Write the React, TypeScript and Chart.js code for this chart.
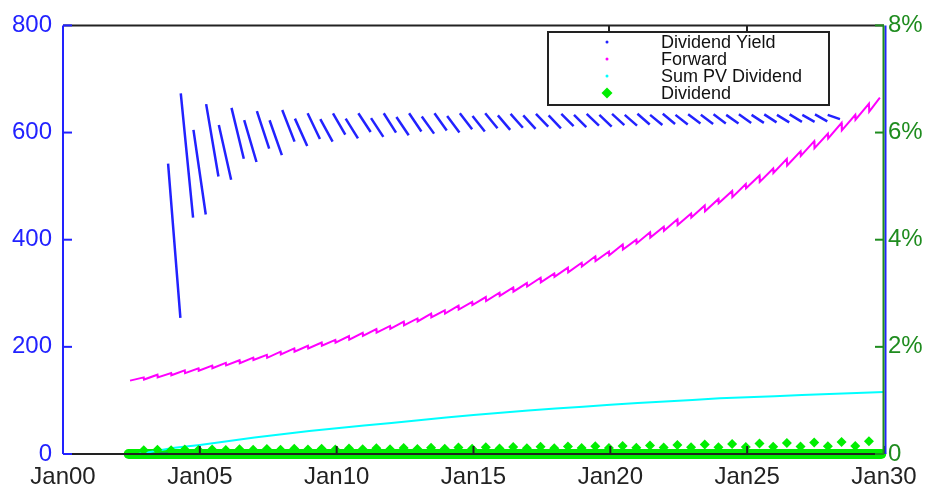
import { useEffect, useRef } from 'react';
import { Chart, registerables } from 'chart.js';

Chart.register(...registerables);

// ---------- data ----------
const seriesNames = ['Dividend Yield', 'Forward', 'Sum PV Dividend', 'Dividend'];
const xTickYears = [0, 5, 10, 15, 20, 25, 30];
const leftTicks = [0, 200, 400, 600, 800];
const rightTicks = [0, 2, 4, 6, 8];

// Dividend yield (%), one descending segment per period
const yieldStart = 3.84;
const yieldPeriod = 0.4635;
const yieldTops = [
  5.42, 6.73, 6.05, 6.53, 6.14, 6.46, 6.23, 6.4, 6.23, 6.42, 6.26, 6.36, 6.25, 6.36, 6.26, 6.36,
  6.27, 6.36, 6.29, 6.36, 6.3, 6.36, 6.31, 6.36, 6.31, 6.36, 6.32, 6.35, 6.32, 6.35, 6.32, 6.35,
  6.33, 6.35, 6.33, 6.35, 6.33, 6.35, 6.33, 6.35, 6.33, 6.34, 6.33, 6.34, 6.33, 6.34, 6.33, 6.34,
  6.33, 6.34, 6.33, 6.34, 6.33,
];
const yieldBottoms = [
  2.54, 4.41, 4.47, 5.18, 5.12, 5.51, 5.45, 5.7, 5.58, 5.83, 5.75, 5.88, 5.83, 5.96, 5.89, 6.01,
  5.92, 6.0, 5.95, 6.02, 5.98, 6.04, 6.0, 6.06, 6.02, 6.08, 6.05, 6.09, 6.07, 6.11, 6.08, 6.12,
  6.1, 6.13, 6.11, 6.14, 6.13, 6.15, 6.14, 6.16, 6.15, 6.17, 6.16, 6.17, 6.17, 6.18, 6.18, 6.19,
  6.19, 6.2, 6.2, 6.21, 6.25,
];
const yieldZeroSpan = [3.43, 3.84];

// Dividends (semi-annual), alternating small / big payments
const divStart = 2.95;
const divPeriod = 0.5;
const dividendSmall = [
  7, 7.2, 7.4, 7.6, 7.8, 8, 8.2, 8.5, 8.8, 9, 9.3, 9.6, 9.9, 10.2, 10.5, 10.8, 11, 11.3, 11.6, 12,
  12.4, 12.8, 13.2, 13.6, 14, 14.5, 15,
];
const dividendBig = [
  8, 8.3, 8.6, 9, 9.3, 9.6, 10, 10.4, 10.8, 11.2, 11.6, 12, 12.5, 13, 13.5, 14, 14.5, 15, 16, 17,
  17.5, 18.5, 19.5, 20.5, 21.5, 22.5, 24,
];

// Forward: value just before each dividend date, and the drop on that date
const forwardStart = [2.45, 137];
const forwardEnd = [29.85, 665];
const forwardPre = [
  143, 148, 151, 156, 160, 165, 170, 175, 180, 185, 191, 197, 202, 208, 213, 220, 226, 233, 239,
  247, 253, 262, 268, 277, 284, 293, 301, 311, 319, 329, 337, 348, 357, 369, 378, 391, 400, 414,
  424, 438, 449, 464, 476, 491, 504, 520, 533, 551, 565, 584, 598, 618, 633, 654,
];
const forwardDrop = [
  4, 5, 4, 5, 4.5, 5, 4.5, 5.5, 4.5, 5.5, 5, 6, 5, 6, 5, 6.5, 5.5, 6.5, 5.5, 7, 5.5, 7, 6, 7.5, 6,
  7.5, 6, 8, 6.5, 8.5, 6.5, 9, 7, 9, 7, 9.5, 7, 10, 7.5, 10.5, 7.5, 11, 8, 11.5, 8, 12, 8.5, 12.5,
  8.5, 13, 9, 14, 9, 15,
];

// Sum of PV of dividends
const sumPVDates = [
  2.75, 3.45, 4, 5, 6, 7, 8, 9, 10, 11, 12, 13, 14, 15, 16, 17, 18, 19, 20, 21, 22, 23, 24, 25, 26,
  27, 28, 29, 30,
];
const sumPVValues = [
  0, 6, 11, 17, 24, 31, 37, 43, 48, 53, 58, 63, 68, 73, 77, 81, 85, 88, 92, 95, 98, 101, 104, 106,
  108, 110, 112, 114, 115.5,
];

const zeroBandSpan = [2.4, 29.9];

// ---------- styles ----------
const FONT = 'Liberation Sans, Arial, sans-serif';
const BLUE = '#2222ff';
const AXIS_GREEN = '#1f8c1f';
const GREEN = '#00ee00';
const MAGENTA = '#ff00ff';
const CYAN = '#00ffff';
const BLACK = '#222222';

export default function App() {
  const ref = useRef<HTMLCanvasElement | null>(null);

  useEffect(() => {
    document.body.style.margin = '0';
    const canvas = ref.current;
    if (!canvas) return;

    const dividends: number[] = [];
    for (let j = 0; j < dividendSmall.length; j++) {
      dividends.push(dividendSmall[j]);
      dividends.push(dividendBig[j]);
    }
    const divDates = dividends.map((_, k) => divStart + divPeriod * k);

    const yieldData: any[] = [
      { x: yieldZeroSpan[0], y: 0 },
      { x: yieldZeroSpan[1], y: 0 },
      { x: yieldZeroSpan[1], y: null },
    ];
    yieldTops.forEach((top, k) => {
      const s = yieldStart + yieldPeriod * k;
      const e = s + yieldPeriod * 0.97;
      yieldData.push({ x: s, y: top }, { x: e, y: yieldBottoms[k] }, { x: e, y: null });
    });

    const forwardData: any[] = [{ x: forwardStart[0], y: forwardStart[1] }];
    forwardPre.forEach((pre, k) => {
      const t = divDates[k];
      forwardData.push({ x: t, y: pre }, { x: t + 0.01, y: pre - forwardDrop[k] });
    });
    forwardData.push({ x: forwardEnd[0], y: forwardEnd[1] });

    const sumPVData = sumPVDates.map((t, i) => ({ x: t, y: sumPVValues[i] }));
    const divData = divDates.map((t, k) => ({ x: t, y: dividends[k] }));
    const bandData = [
      { x: zeroBandSpan[0], y: 0 },
      { x: zeroBandSpan[1], y: 0 },
    ];

    const framePlugin = {
      id: 'frame',
      afterDatasetsDraw(chart: any) {
        const { ctx, chartArea } = chart;
        const { left, right, top, bottom } = chartArea;
        const yS = chart.scales.y;
        const y2S = chart.scales.y2;
        const xS = chart.scales.x;
        const line = (x1: number, y1: number, x2: number, y2: number) => {
          ctx.beginPath();
          ctx.moveTo(x1, y1);
          ctx.lineTo(x2, y2);
          ctx.stroke();
        };
        ctx.save();
        ctx.lineWidth = 2;
        // x ticks
        ctx.strokeStyle = BLACK;
        xTickYears.forEach((t) => {
          const x = xS.getPixelForValue(t);
          line(x, bottom, x, bottom - 8);
        });
        line(left, top, right, top);
        line(left, bottom, right, bottom);
        // left axis
        ctx.strokeStyle = BLUE;
        line(left, top, left, bottom);
        leftTicks.forEach((v) => {
          const y = yS.getPixelForValue(v);
          line(left, y, left + 9, y);
        });
        // right axis
        ctx.strokeStyle = BLUE;
        line(right + 1.5, top, right + 1.5, bottom);
        ctx.strokeStyle = AXIS_GREEN;
        line(right - 0.5, top, right - 0.5, bottom);
        rightTicks.forEach((v) => {
          const y = y2S.getPixelForValue(v);
          line(right - 9, y, right, y);
        });

        // legend
        const bx = 548, by = 32, bw = 281, bh = 73;
        ctx.fillStyle = '#ffffff';
        ctx.fillRect(bx, by, bw, bh);
        ctx.strokeStyle = BLACK;
        ctx.lineWidth = 2;
        ctx.strokeRect(bx, by, bw, bh);
        line(609, top, 609, by);
        line(747, top, 747, by);
        const rows = [42, 59, 76, 93];
        const markerColors = [BLUE, MAGENTA, CYAN];
        ctx.font = `18px ${FONT}`;
        ctx.textBaseline = 'middle';
        ctx.textAlign = 'left';
        seriesNames.forEach((name, i) => {
          const y = rows[i];
          if (i < 3) {
            ctx.fillStyle = markerColors[i];
            ctx.beginPath();
            ctx.arc(607, y, 1.5, 0, Math.PI * 2);
            ctx.fill();
          } else {
            ctx.fillStyle = GREEN;
            ctx.beginPath();
            ctx.moveTo(607, y - 5.5);
            ctx.lineTo(612.5, y);
            ctx.lineTo(607, y + 5.5);
            ctx.lineTo(601.5, y);
            ctx.closePath();
            ctx.fill();
          }
          ctx.fillStyle = '#111111';
          ctx.fillText(name, 661, y + 1);
        });
        ctx.restore();
      },
    };

    const chart = new Chart(canvas, {
      type: 'line',
      data: {
        datasets: [
          {
            label: seriesNames[3],
            data: divData,
            yAxisID: 'y',
            showLine: false,
            pointStyle: 'rectRot',
            pointRadius: 5,
            pointBackgroundColor: GREEN,
            pointBorderWidth: 0,
            borderColor: GREEN,
            clip: false,
          } as any,
          {
            label: seriesNames[0],
            data: yieldData,
            yAxisID: 'y2',
            borderColor: BLUE,
            borderWidth: 2.5,
            pointRadius: 0,
            spanGaps: false,
          },
          {
            label: seriesNames[1],
            data: forwardData,
            yAxisID: 'y',
            borderColor: MAGENTA,
            borderWidth: 2,
            pointRadius: 0,
          },
          {
            label: seriesNames[2],
            data: sumPVData,
            yAxisID: 'y',
            borderColor: CYAN,
            borderWidth: 2,
            pointRadius: 0,
          },
          {
            label: 'zero',
            data: bandData,
            yAxisID: 'y',
            borderColor: GREEN,
            borderWidth: 10,
            borderCapStyle: 'round',
            pointRadius: 0,
            clip: false,
          } as any,
        ],
      },
      options: {
        responsive: false,
        animation: false,
        events: [],
        layout: { padding: { top: 23, left: 0, right: 0, bottom: 0 } },
        plugins: { legend: { display: false }, tooltip: { enabled: false } },
        scales: {
          x: {
            type: 'linear',
            min: 0,
            max: 30,
            grid: { display: false, drawTicks: false },
            border: { display: false },
            afterBuildTicks: (s: any) => {
              s.ticks = xTickYears.map((v) => ({ value: v }));
            },
            afterFit: (s: any) => {
              s.height = 32;
            },
            ticks: {
              autoSkip: false,
              maxRotation: 0,
              padding: 9,
              color: BLACK,
              font: { family: FONT, size: 24 },
              callback: (v: any) => 'Jan' + String(v).padStart(2, '0'),
            },
          },
          y: {
            position: 'left',
            min: 0,
            max: 800,
            grid: { display: false, drawTicks: false },
            border: { display: false },
            afterBuildTicks: (s: any) => {
              s.ticks = leftTicks.map((v) => ({ value: v }));
            },
            afterFit: (s: any) => {
              s.width = 63;
            },
            ticks: {
              padding: 11,
              color: BLUE,
              font: { family: FONT, size: 24 },
            },
          },
          y2: {
            position: 'right',
            min: 0,
            max: 8,
            grid: { display: false, drawTicks: false },
            border: { display: false },
            afterBuildTicks: (s: any) => {
              s.ticks = rightTicks.map((v) => ({ value: v }));
            },
            afterFit: (s: any) => {
              s.width = 45;
            },
            ticks: {
              padding: 4,
              color: AXIS_GREEN,
              font: { family: FONT, size: 24 },
              callback: (v: any) => (v === 0 ? '0' : v + '%'),
            },
          },
        },
      },
      plugins: [framePlugin],
    });

    return () => chart.destroy();
  }, []);

  return (
    <div style={{ width: 929, height: 486 }}>
      <canvas ref={ref} width={929} height={486} style={{ display: 'block' }} />
    </div>
  );
}
